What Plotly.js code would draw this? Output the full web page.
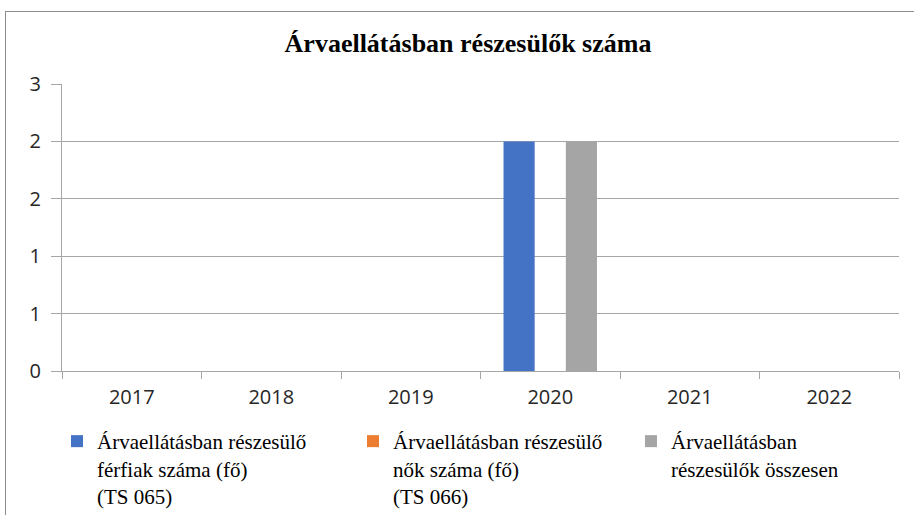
<!DOCTYPE html>
<html>
<head>
<meta charset="utf-8">
<script src="https://cdn.plot.ly/plotly-3.0.1.min.js"></script>
<style>
  html, body { margin: 0; padding: 0; background: #fff; overflow: hidden; }
  #chart { position: absolute; left: 0; top: 0; width: 914px; height: 515px; }
  #frame { position: absolute; left: 5px; top: 11px; width: 930px; height: 530px;
           border-left: 1px solid #8c8c8c; border-top: 1px solid #8c8c8c; pointer-events: none; }
</style>
</head>
<body>
<div id="chart"></div>
<div id="frame"></div>
<script>
const years = ['2017', '2018', '2019', '2020', '2021', '2022'];
const men = [0, 0, 0, 2, 0, 0];
const women = [0, 0, 0, 0, 0, 0];
const total = [0, 0, 0, 2, 0, 0];
const seriesNames = [
  'Árvaellátásban részesülő<br>férfiak száma (fő)<br>(TS 065)',
  'Árvaellátásban részesülő<br>nők száma (fő)<br>(TS 066)',
  'Árvaellátásban<br>részesülők összesen'
];
const yTickVals = [0, 0.5, 1, 1.5, 2, 2.5];
const yTickText = ['0', '1', '1', '2', '2', '3'];
const colors = ['#4472C4', '#ED7D31', '#A5A5A5'];

const serif = 'Liberation Serif';
const sans = 'Open Sans';

const traces = [men, women, total].map((vals, i) => ({
  type: 'bar',
  x: years,
  y: vals,
  name: seriesNames[i],
  marker: { color: colors[i], line: { width: 0 } },
  legend: i === 0 ? 'legend' : ('legend' + (i + 1)),
  hoverinfo: 'x+y'
}));

function legendAt(px) {
  return {
    orientation: 'v',
    xref: 'container', yref: 'container',
    xanchor: 'left', yanchor: 'top',
    x: px / 914,
    y: 1 - 421 / 515,
    valign: 'top',
    font: { family: serif, size: 21, color: '#000' },
    bgcolor: 'rgba(0,0,0,0)',
    itemwidth: 30
  };
}

const layout = {
  width: 914, height: 515,
  font: { family: serif, color: '#000' },
  paper_bgcolor: '#fff', plot_bgcolor: '#fff',
  margin: { l: 62, r: 15, t: 84, b: 144, autoexpand: false },
  title: {
    text: '<b>Árvaellátásban részesülők száma</b>',
    font: { family: serif, size: 26, color: '#000' },
    xref: 'container', yref: 'container',
    x: 468 / 914, xanchor: 'center',
    y: 1 - 43 / 515, yanchor: 'middle'
  },
  barmode: 'group',
  bargap: 0.33,
  bargroupgap: 0,
  xaxis: {
    type: 'category',
    automargin: false,
    tickangle: 0,
    tickson: 'boundaries',
    ticks: 'outside', ticklen: 7, tickcolor: '#a6a6a6', tickwidth: 1,
    showline: true, linecolor: '#a6a6a6', linewidth: 1,
    showgrid: false,
    tickfont: { family: sans, size: 20, color: '#262626' },
    ticklabelstandoff: 8
  },
  yaxis: {
    automargin: false,
    range: [0, 2.5],
    tickmode: 'array', tickvals: yTickVals, ticktext: yTickText,
    ticks: 'outside', ticklen: 10, tickcolor: '#a6a6a6', tickwidth: 1,
    showline: true, linecolor: '#a6a6a6', linewidth: 1,
    showgrid: true, gridcolor: '#a6a6a6', gridwidth: 1,
    zeroline: false,
    tickfont: { family: sans, size: 20, color: '#262626' },
    ticklabelstandoff: 6
  },
  showlegend: true,
  legend: legendAt(57),
  legend2: legendAt(353),
  legend3: legendAt(631)
};

Plotly.newPlot('chart', traces, layout, { displayModeBar: false, staticPlot: true });
</script>
</body>
</html>
